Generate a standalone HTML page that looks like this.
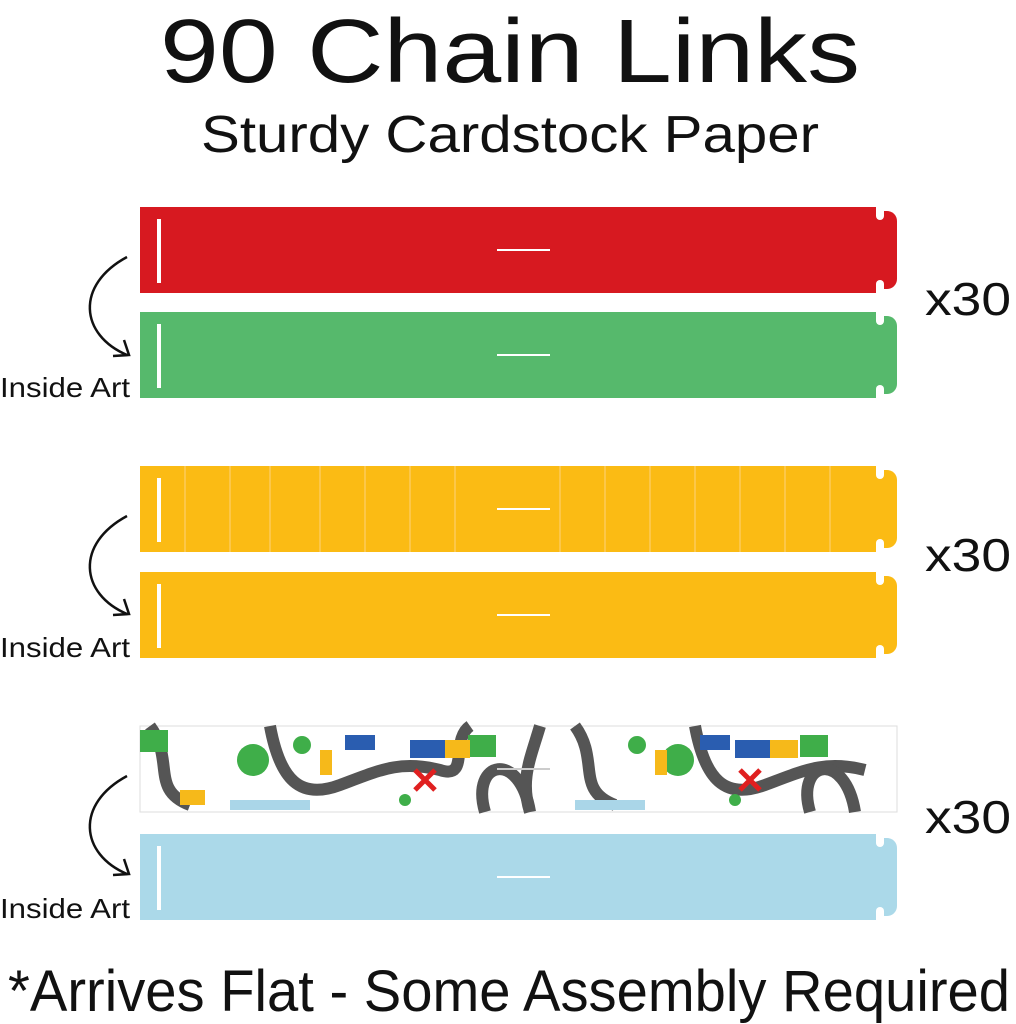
<!DOCTYPE html>
<html><head><style>
html,body{margin:0;padding:0;background:#fff;}
svg{display:block;}
text{font-family:"Liberation Sans",sans-serif;fill:#111;}
</style></head><body>
<svg width="1016" height="1024" viewBox="0 0 1016 1024">
<defs>
<g id="arrow">
<path d="M127 257 C 75 285, 80 335, 127 355" fill="none" stroke="#111" stroke-width="2.5"/>
<path d="M113 356 L129 355 L124 340" fill="none" stroke="#111" stroke-width="2.5"/>
</g>
</defs>
<text x="160" y="82" font-size="90" textLength="700" lengthAdjust="spacingAndGlyphs">90 Chain Links</text>
<text x="201" y="152" font-size="52" textLength="618" lengthAdjust="spacingAndGlyphs">Sturdy Cardstock Paper</text>

<g>
<rect x="140" y="207" width="740" height="86" fill="#d71920"/>
<rect x="870" y="211" width="27" height="78" rx="10" fill="#d71920"/>
<circle cx="880" cy="216" r="4" fill="#fff"/><rect x="876" y="207" width="8" height="9" fill="#fff"/>
<circle cx="880" cy="284" r="4" fill="#fff"/><rect x="876" y="284" width="8" height="9" fill="#fff"/>
<rect x="157" y="219" width="4" height="64" fill="#fff"/>
<rect x="497" y="249" width="53" height="2" fill="#fff"/>
</g>
<g>
<rect x="140" y="312" width="740" height="86" fill="#56b96c"/>
<rect x="870" y="316" width="27" height="78" rx="10" fill="#56b96c"/>
<circle cx="880" cy="321" r="4" fill="#fff"/><rect x="876" y="312" width="8" height="9" fill="#fff"/>
<circle cx="880" cy="389" r="4" fill="#fff"/><rect x="876" y="389" width="8" height="9" fill="#fff"/>
<rect x="157" y="324" width="4" height="64" fill="#fff"/>
<rect x="497" y="354" width="53" height="2" fill="#fff"/>
</g>
<use href="#arrow"/>
<text x="0" y="397" font-size="28" textLength="130" lengthAdjust="spacingAndGlyphs">Inside Art</text>
<text x="925" y="315" font-size="46" textLength="86" lengthAdjust="spacingAndGlyphs">x30</text>

<g>
<rect x="140" y="466" width="740" height="86" fill="#fbbb14"/>
<g stroke="#fdd37a" stroke-width="1.5" opacity="0.7">
<line x1="185" y1="466" x2="185" y2="552"/><line x1="230" y1="466" x2="230" y2="552"/><line x1="270" y1="466" x2="270" y2="552"/><line x1="320" y1="466" x2="320" y2="552"/><line x1="365" y1="466" x2="365" y2="552"/><line x1="410" y1="466" x2="410" y2="552"/><line x1="455" y1="466" x2="455" y2="552"/><line x1="560" y1="466" x2="560" y2="552"/><line x1="605" y1="466" x2="605" y2="552"/><line x1="650" y1="466" x2="650" y2="552"/><line x1="695" y1="466" x2="695" y2="552"/><line x1="740" y1="466" x2="740" y2="552"/><line x1="785" y1="466" x2="785" y2="552"/><line x1="830" y1="466" x2="830" y2="552"/>
</g>
<rect x="870" y="470" width="27" height="78" rx="10" fill="#fbbb14"/>
<circle cx="880" cy="475" r="4" fill="#fff"/><rect x="876" y="466" width="8" height="9" fill="#fff"/>
<circle cx="880" cy="543" r="4" fill="#fff"/><rect x="876" y="543" width="8" height="9" fill="#fff"/>
<rect x="157" y="478" width="4" height="64" fill="#fff"/>
<rect x="497" y="508" width="53" height="2" fill="#fff"/>
</g>
<g>
<rect x="140" y="572" width="740" height="86" fill="#fbbb14"/>
<rect x="870" y="576" width="27" height="78" rx="10" fill="#fbbb14"/>
<circle cx="880" cy="581" r="4" fill="#fff"/><rect x="876" y="572" width="8" height="9" fill="#fff"/>
<circle cx="880" cy="649" r="4" fill="#fff"/><rect x="876" y="649" width="8" height="9" fill="#fff"/>
<rect x="157" y="584" width="4" height="64" fill="#fff"/>
<rect x="497" y="614" width="53" height="2" fill="#fff"/>
</g>
<use href="#arrow" transform="translate(0,259)"/>
<text x="0" y="657" font-size="28" textLength="130" lengthAdjust="spacingAndGlyphs">Inside Art</text>
<text x="925" y="571" font-size="46" textLength="86" lengthAdjust="spacingAndGlyphs">x30</text>

<g>
<rect x="140" y="726" width="757" height="86" fill="#fff" stroke="#ddd" stroke-width="1"/>
<g fill="none" stroke="#555" stroke-width="12">
<path d="M150 726 C 175 760, 150 790, 190 805"/>
<path d="M270 726 C 280 780, 300 800, 340 785 C 380 770, 400 760, 440 770 C 470 780, 450 740, 470 726"/>
<path d="M485 812 C 470 760, 520 750, 530 812"/>
<path d="M540 726 C 530 760, 520 780, 530 812"/>
<path d="M575 726 C 600 760, 575 790, 615 805"/>
<path d="M695 726 C 705 780, 725 800, 765 785 C 805 770, 825 760, 865 770"/>
<path d="M810 812 C 795 760, 845 750, 855 812"/>
</g>
<g fill="#3fae49">
<circle cx="253" cy="760" r="16"/><circle cx="302" cy="745" r="9"/><circle cx="678" cy="760" r="16"/><circle cx="637" cy="745" r="9"/><circle cx="405" cy="800" r="6"/><circle cx="735" cy="800" r="6"/>
<rect x="140" y="730" width="28" height="22"/><rect x="468" y="735" width="28" height="22"/><rect x="800" y="735" width="28" height="22"/>
</g>
<g fill="#2a5db0"><rect x="345" y="735" width="30" height="15"/><rect x="410" y="740" width="35" height="18"/><rect x="735" y="740" width="35" height="18"/><rect x="700" y="735" width="30" height="15"/></g>
<g fill="#f6b91a"><rect x="445" y="740" width="25" height="18"/><rect x="770" y="740" width="28" height="18"/><rect x="180" y="790" width="25" height="15"/><rect x="320" y="750" width="12" height="25"/><rect x="655" y="750" width="12" height="25"/></g>
<g fill="#aad6e8"><rect x="230" y="800" width="80" height="10"/><rect x="575" y="800" width="70" height="10"/></g>
<path d="M415 770 L435 790 M435 770 L415 790" stroke="#e02020" stroke-width="5"/>
<path d="M740 770 L760 790 M760 770 L740 790" stroke="#e02020" stroke-width="5"/>
<rect x="497" y="768" width="53" height="2" fill="#ccc"/>
</g>
<g>
<rect x="140" y="834" width="740" height="86" fill="#abd9e9"/>
<rect x="870" y="838" width="27" height="78" rx="10" fill="#abd9e9"/>
<circle cx="880" cy="843" r="4" fill="#fff"/><rect x="876" y="834" width="8" height="9" fill="#fff"/>
<circle cx="880" cy="911" r="4" fill="#fff"/><rect x="876" y="911" width="8" height="9" fill="#fff"/>
<rect x="157" y="846" width="4" height="64" fill="#fff"/>
<rect x="497" y="876" width="53" height="2" fill="#fff"/>
</g>
<use href="#arrow" transform="translate(0,519)"/>
<text x="0" y="918" font-size="28" textLength="130" lengthAdjust="spacingAndGlyphs">Inside Art</text>
<text x="925" y="833" font-size="46" textLength="86" lengthAdjust="spacingAndGlyphs">x30</text>

<text x="8" y="1011" font-size="58" textLength="1002" lengthAdjust="spacingAndGlyphs">*Arrives Flat - Some Assembly Required</text>
</svg>
</body></html>
